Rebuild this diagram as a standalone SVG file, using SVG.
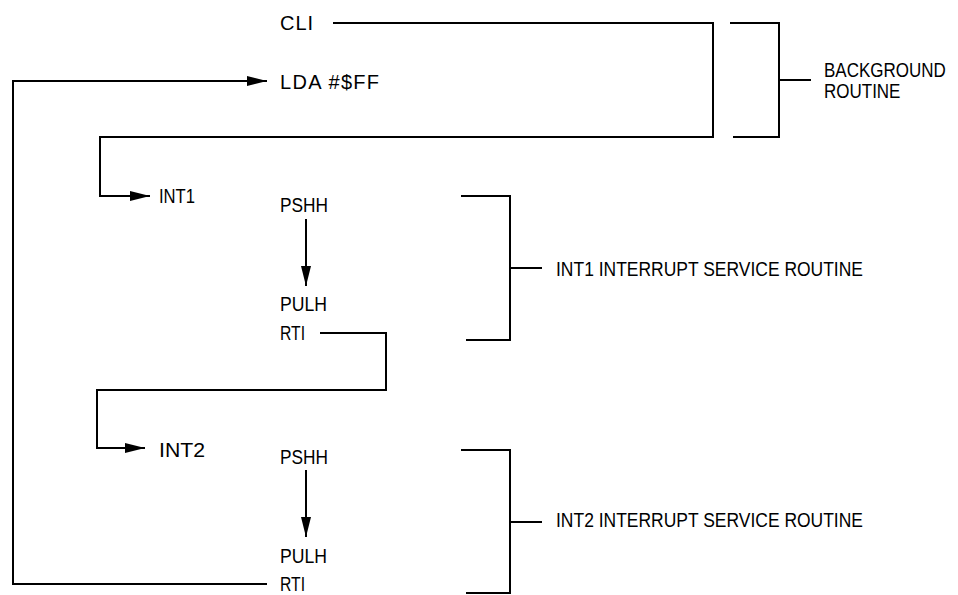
<svg xmlns="http://www.w3.org/2000/svg" width="958" height="595" viewBox="0 0 958 595">
<style>
  .ln { fill: none; stroke: #000; stroke-width: 2; stroke-linejoin: miter; stroke-linecap: butt; }
  .big { font-family: "Liberation Sans", Arial, sans-serif; font-size: 20px; fill: #000; }
  .txt { font-family: "Liberation Sans", Arial, sans-serif; font-size: 20px; fill: #000; }
</style>
<defs>
  <marker id="ah" viewBox="0 0 20 10" refX="20" refY="5" markerWidth="20" markerHeight="10" markerUnits="userSpaceOnUse" orient="auto">
    <path d="M0,0 L20,5 L0,10 Z" fill="#000"/>
  </marker>
</defs>
<rect width="958" height="595" fill="#fff"/>
<g id="connectors">
  <path class="ln" d="M333,23 H713 V137 H100 V196 H150" marker-end="url(#ah)"/>
  <path class="ln" d="M267,584 H13 V81 H267" marker-end="url(#ah)"/>
  <path class="ln" d="M320,333 H386 V390 H97 V448 H145" marker-end="url(#ah)"/>
  <path class="ln" d="M306,219 V286" marker-end="url(#ah)"/>
  <path class="ln" d="M306,470 V537" marker-end="url(#ah)"/>
</g>
<g id="background">
  <text class="big" x="280" y="30" textLength="33" lengthAdjust="spacing">CLI</text>
  <text class="big" x="280" y="89" textLength="99" lengthAdjust="spacing">LDA #$FF</text>
</g>
<g id="bracket-background">
  <path class="ln" d="M730,23 H779 V137 H733 M779,80 H811"/>
  <text class="txt" transform="translate(824,77) scale(0.85,1)">BACKGROUND</text>
  <text class="txt" transform="translate(824,98) scale(0.85,1)">ROUTINE</text>
</g>
<g id="int1">
  <text class="txt" x="159" y="203" textLength="36" lengthAdjust="spacingAndGlyphs">INT1</text>
  <text class="txt" x="280" y="212" textLength="48" lengthAdjust="spacingAndGlyphs">PSHH</text>
  <text class="txt" x="280" y="311" textLength="47" lengthAdjust="spacingAndGlyphs">PULH</text>
  <text class="txt" x="280" y="340" textLength="25" lengthAdjust="spacingAndGlyphs">RTI</text>
</g>
<g id="bracket-int1">
  <path class="ln" d="M461,196 H510 V340 H466 M510,268 H542"/>
  <text class="txt" x="556" y="276" textLength="307" lengthAdjust="spacingAndGlyphs">INT1 INTERRUPT SERVICE ROUTINE</text>
</g>
<g id="int2">
  <text class="txt" x="159" y="457" textLength="46" lengthAdjust="spacingAndGlyphs">INT2</text>
  <text class="txt" x="280" y="464" textLength="48" lengthAdjust="spacingAndGlyphs">PSHH</text>
  <text class="txt" x="280" y="563" textLength="47" lengthAdjust="spacingAndGlyphs">PULH</text>
  <text class="txt" x="280" y="591" textLength="25" lengthAdjust="spacingAndGlyphs">RTI</text>
</g>
<g id="bracket-int2">
  <path class="ln" d="M461,450 H510 V593 H466 M510,522 H542"/>
  <text class="txt" x="556" y="527" textLength="307" lengthAdjust="spacingAndGlyphs">INT2 INTERRUPT SERVICE ROUTINE</text>
</g>
</svg>
